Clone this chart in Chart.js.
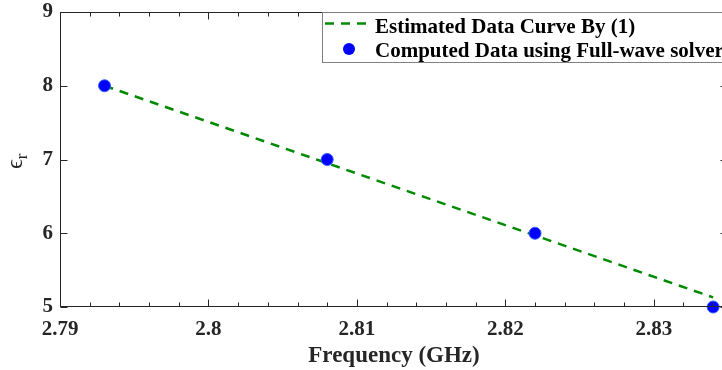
<!DOCTYPE html>
<html lang="en">
<head>
  <meta charset="UTF-8">
  <title>Permittivity vs Frequency</title>
  <script src="https://cdn.jsdelivr.net/npm/chart.js"></script>
  <style>
    html, body { margin: 0; padding: 0; background: white; overflow: hidden; width: 722px; height: 370px; }
    #wrap { width: 735px; height: 370px; }
  </style>
</head>
<body>
<div id="wrap"><canvas id="epsChart" width="735" height="370"></canvas></div>
<script>
// computed data (full-wave solver)
const freqPoints = [2.793, 2.808, 2.822, 2.834];
const epsPoints = [8, 7, 6, 5];
// estimated curve by (1)
const curveFreq = [2.793, 2.834];
const curveEps = [8.0, 5.13];
// axis ticks
const xTickValues = [2.79, 2.8, 2.81, 2.82, 2.83];
const yTickValues = [5, 6, 7, 8, 9];
const xMinorStep = 0.002;

const FONT = "'Liberation Serif', 'Times New Roman', serif";
const GREEN = '#008a00';
const BLUE = '#0000ff';

const boxPlugin = {
  id: 'boxPlugin',
  afterDraw(chart) {
    const ctx = chart.ctx;
    const a = chart.chartArea;
    const xs = chart.scales.x, ys = chart.scales.y;
    ctx.save();
    ctx.strokeStyle = '#262626';
    ctx.lineWidth = 1;
    const L = Math.round(a.left) + 0.5, R = Math.round(a.right) - 0.5;
    const T = Math.round(a.top) + 0.5, B = Math.round(a.bottom) - 0.5;
    ctx.strokeRect(L, T, R - L, B - T);
    ctx.beginPath();
    // x ticks, inward, bottom and top
    for (let v = xs.min; v <= xs.max + 1e-9; v += xMinorStep) {
      const major = xTickValues.some(t => Math.abs(t - v) < 1e-6);
      const len = major ? 7 : 4;
      const px = Math.round(xs.getPixelForValue(v)) + 0.5;
      ctx.moveTo(px, B); ctx.lineTo(px, B - len);
      ctx.moveTo(px, T); ctx.lineTo(px, T + len);
    }
    yTickValues.forEach(v => {
      const py = Math.round(ys.getPixelForValue(v)) + 0.5;
      ctx.moveTo(L, py); ctx.lineTo(L + 7, py);
      ctx.moveTo(R, py); ctx.lineTo(R - 7, py);
    });
    ctx.stroke();

    // y axis title: epsilon_r
    ctx.translate(22, 169);
    ctx.rotate(-Math.PI / 2);
    ctx.fillStyle = '#262626';
    ctx.textBaseline = 'alphabetic';
    ctx.textAlign = 'left';
    ctx.font = "24px 'Liberation Serif', 'DejaVu Serif', serif";
    ctx.fillText('\u03f5', 0, 0);
    const w = ctx.measureText('\u03f5').width;
    ctx.font = "17px 'Liberation Serif', 'DejaVu Serif', serif";
    ctx.fillText('r', w, 5);
    ctx.restore();

    // legend
    ctx.save();
    ctx.fillStyle = 'white';
    ctx.strokeStyle = '#808080';
    ctx.lineWidth = 1;
    ctx.fillRect(322.5, 12.5, 420, 50);
    ctx.strokeRect(322.5, 12.5, 420, 50);
    ctx.strokeStyle = GREEN;
    ctx.lineWidth = 2.5;
    ctx.setLineDash([9, 7]);
    ctx.beginPath();
    ctx.moveTo(325, 23.5); ctx.lineTo(373, 23.5);
    ctx.stroke();
    ctx.setLineDash([]);
    ctx.fillStyle = BLUE;
    ctx.beginPath();
    ctx.arc(349, 49, 6, 0, Math.PI * 2);
    ctx.fill();
    ctx.fillStyle = '#000';
    ctx.font = 'bold 21px ' + FONT;
    ctx.textBaseline = 'middle';
    ctx.fillText(chart.data.datasets[1].label, 375, 28);
    ctx.fillText(chart.data.datasets[0].label, 375, 52);
    ctx.restore();
  }
};

new Chart(document.getElementById('epsChart'), {
  type: 'scatter',
  data: {
    datasets: [
      {
        label: 'Computed Data using Full-wave solver',
        data: freqPoints.map((f, i) => ({ x: f, y: epsPoints[i] })),
        backgroundColor: BLUE,
        borderColor: '#2b5cff',
        borderWidth: 1,
        pointRadius: 6,
        showLine: false,
        order: 0,
        clip: false
      },
      {
        label: 'Estimated Data Curve By (1)',
        data: curveFreq.map((f, i) => ({ x: f, y: curveEps[i] })),
        borderColor: GREEN,
        borderWidth: 2.5,
        borderDash: [9, 7],
        pointRadius: 0,
        showLine: true,
        order: 1,
        clip: false
      }
    ]
  },
  options: {
    responsive: false,
    animation: false,
    layout: { padding: { left: 0, top: 12, right: 2, bottom: 0 } },
    plugins: { legend: { display: false }, tooltip: { enabled: false } },
    scales: {
      x: {
        type: 'linear',
        min: 2.79, max: 2.835,
        afterBuildTicks: s => { s.ticks = xTickValues.map(v => ({ value: v })); },
        afterFit: s => { s.height = 63; s.paddingLeft = 0; s.paddingRight = 0; },
        grid: { display: false, drawTicks: false },
        border: { display: false },
        ticks: {
          padding: 10,
          color: '#262626',
          font: { family: FONT, size: 21, weight: 'bold' },
          callback: v => String(Number(v.toFixed(3)))
        },
        title: {
          display: true,
          text: 'Frequency (GHz)',
          color: '#262626',
          padding: { top: 0, bottom: 0 },
          font: { family: FONT, size: 23, weight: 'bold' }
        }
      },
      y: {
        min: 5, max: 9,
        afterBuildTicks: s => { s.ticks = yTickValues.map(v => ({ value: v })); },
        afterFit: s => { s.width = 60; s.paddingTop = 0; s.paddingBottom = 0; },
        grid: { display: false, drawTicks: false },
        border: { display: false },
        ticks: {
          padding: 7,
          color: '#262626',
          font: { family: FONT, size: 21, weight: 'bold' }
        }
      }
    }
  },
  plugins: [boxPlugin]
});
</script>
</body>
</html>
